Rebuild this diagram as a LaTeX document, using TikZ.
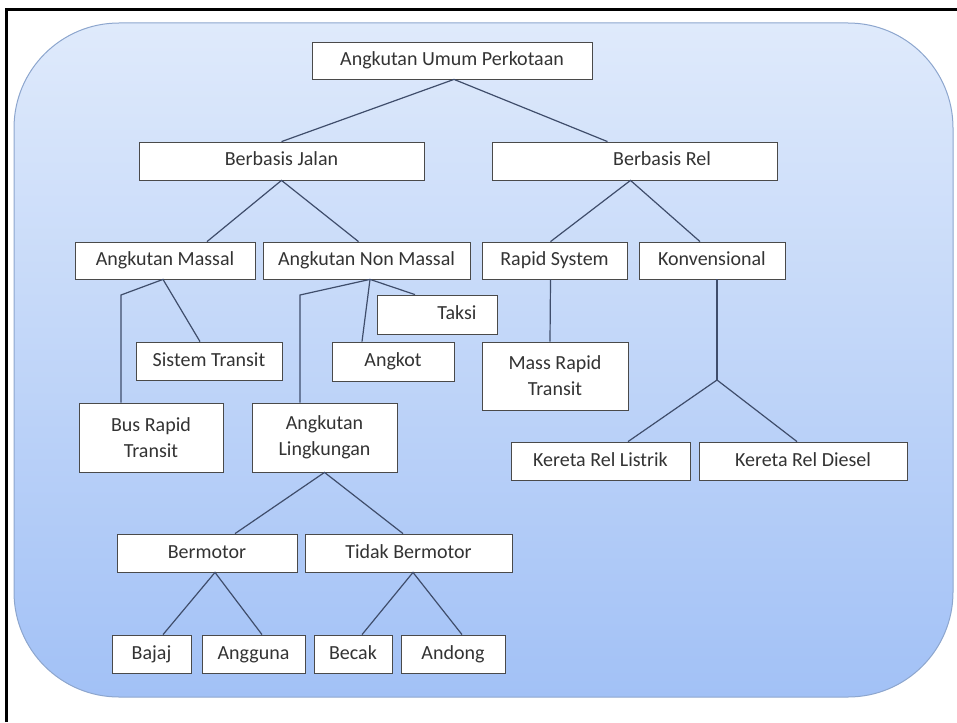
\documentclass[tikz,border=0pt]{standalone}
\usepackage{fontspec}
\setmainfont{Carlito}
\definecolor{bgtop}{HTML}{DFEAFB}
\definecolor{bgbot}{HTML}{A2C1F6}
\definecolor{bgline}{HTML}{8DA6CE}
\definecolor{boxline}{HTML}{4A4A4A}
\definecolor{linkc}{HTML}{3F4D6B}
\definecolor{txt}{HTML}{333333}
\begin{document}
\begin{tikzpicture}[x=1pt,y=-1pt,
	box2/.style={draw=boxline,fill=white,line width=0.8pt,inner sep=0pt,text=txt,
		font=\fontsize{20}{26}\selectfont,align=center},
	box/.style={box2,text height=14pt,text depth=4pt},
	link/.style={linkc,line width=1.2pt}]

	\useasboundingbox (0,0) rectangle (957,722);

	% frame and background
	\draw[line width=3pt] (6.5,722) -- (6.5,9.5) -- (957,9.5);
	\shade[top color=bgtop,bottom color=bgbot,draw=bgline,line width=1pt,rounded corners=105pt]
		(14,23) rectangle (953,697);

	% levels 1 and 2
	\node[box,minimum width=280pt,minimum height=37pt] (umum) at (452,60.5) {Angkutan Umum Perkotaan};
	\node[box,minimum width=285pt,minimum height=38pt] (jalan) at (281.5,161) {Berbasis Jalan};
	\node[box,minimum width=285pt,minimum height=38pt] (rel) at (634.5,161) {\hspace*{55pt}Berbasis Rel};

	% level 3
	\node[box,minimum width=180pt,minimum height=37pt] (massal) at (165,260.5) {Angkutan Massal};
	\node[box,minimum width=207pt,minimum height=37pt] (nonmassal) at (366.5,260.5) {Angkutan Non Massal};
	\node[box,minimum width=145pt,minimum height=37pt] (rapid) at (554.5,260.5) {Rapid System};
	\node[box,minimum width=146pt,minimum height=37pt] (konv) at (712,260.5) {Konvensional};

	% level 4
	\node[box,minimum width=120pt,minimum height=39pt] (taksi) at (437,314.5) {\hspace*{40pt}Taksi};
	\node[box,minimum width=146pt,minimum height=38pt] (sistem) at (209,361) {Sistem Transit};
	\node[box,minimum width=122pt,minimum height=39pt] (angkot) at (393,361.5) {Angkot};
	\node[box2,minimum width=146pt,minimum height=68pt] (mrt) at (555,376) {Mass Rapid\\Transit};
	\node[box2,minimum width=144pt,minimum height=69pt] (brt) at (151,437.5) {Bus Rapid\\Transit};
	\node[box2,minimum width=145pt,minimum height=69pt] (lingk) at (324.5,437.5) {Angkutan\\Lingkungan};
	\node[box,minimum width=179pt,minimum height=38pt] (krl) at (600.5,461) {Kereta Rel Listrik};
	\node[box,minimum width=208pt,minimum height=38pt] (krd) at (803,461) {Kereta Rel Diesel};

	% level 5 and 6
	\node[box,minimum width=180pt,minimum height=38pt] (bermotor) at (207,553) {Bermotor};
	\node[box,minimum width=207pt,minimum height=38pt] (tidak) at (408.5,553) {Tidak Bermotor};
	\node[box,minimum width=79pt,minimum height=38pt] (bajaj) at (151.5,654) {Bajaj};
	\node[box,minimum width=103pt,minimum height=38pt] (angguna) at (253.5,654) {Angguna};
	\node[box,minimum width=78pt,minimum height=38pt] (becak) at (353,654) {Becak};
	\node[box,minimum width=104pt,minimum height=38pt] (andong) at (453,654) {Andong};

	% bend points
	\coordinate (mbend) at (121,295);
	\coordinate (nbend) at (300,295);
	\coordinate (kjoin) at (717,380);

	% connectors
	\draw[link] (jalan.north) -- ([xshift=2pt]umum.south) -- ([xshift=-27pt]rel.north);
	\draw[link] ([xshift=42pt]massal.north) -- (jalan.south) -- ([xshift=-8pt]nonmassal.north);
	\draw[link] ([xshift=-4pt]rapid.north) -- ([xshift=-4pt]rel.south) -- ([xshift=-12pt]konv.north);

	\draw[link] (mbend |- brt.north) -- (mbend) -- ([xshift=-2pt]massal.south) -- ([xshift=-9pt]sistem.north);
	\draw[link] (nbend |- lingk.north) -- (nbend) -- ([xshift=3.5pt]nonmassal.south) -- ([xshift=-22pt]taksi.north);
	\draw[link] ([xshift=3.5pt]nonmassal.south) -- ([xshift=-31pt]angkot.north);
	\draw[link] ([xshift=-4pt]rapid.south) -- ([xshift=-5pt]mrt.north);
	\draw[link] ([xshift=5pt]konv.south) -- (kjoin);
	\draw[link] ([xshift=27.5pt]krl.north) -- (kjoin) -- ([xshift=-6pt]krd.north);

	\draw[link] ([xshift=28pt]bermotor.north) -- (lingk.south) -- ([xshift=-5.5pt]tidak.north);
	\draw[link] ([xshift=11.5pt]bajaj.north) -- ([xshift=8pt]bermotor.south) -- ([xshift=8.5pt]angguna.north);
	\draw[link] ([xshift=9pt]becak.north) -- ([xshift=4.5pt]tidak.south) -- ([xshift=9pt]andong.north);

\end{tikzpicture}
\end{document}
